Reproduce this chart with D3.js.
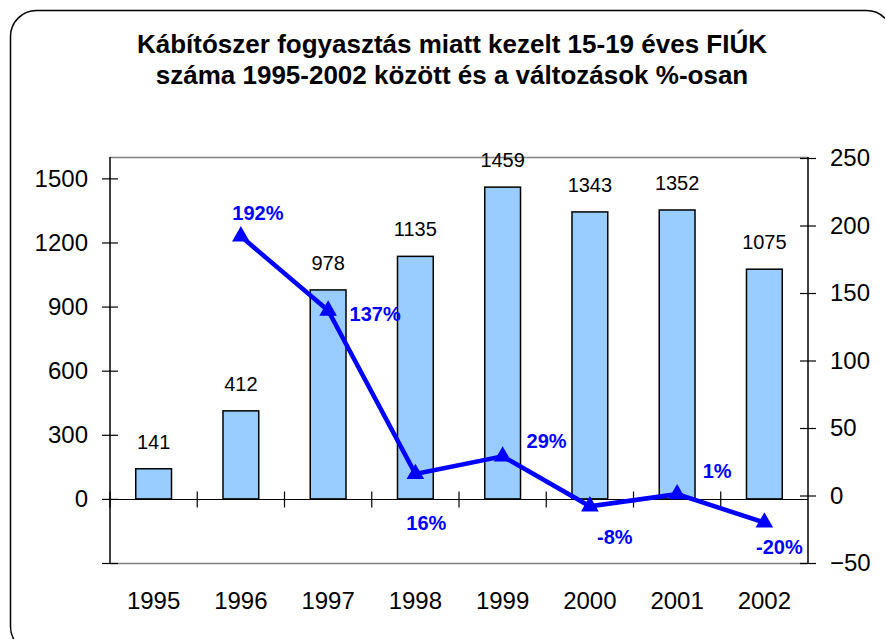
<!DOCTYPE html>
<html>
<head>
<meta charset="utf-8">
<script src="https://cdn.jsdelivr.net/npm/d3@7"></script>
<style>
body { margin: 0; background: #fff; }
text { font-family: "Liberation Sans", Arial, sans-serif; }
</style>
</head>
<body>
<div id="chart"></div>
<script>
var W = 885, H = 639;

// data
var years = ["1995", "1996", "1997", "1998", "1999", "2000", "2001", "2002"];
var counts = [141, 412, 978, 1135, 1459, 1343, 1352, 1075];
var changes = [null, 192, 137, 16, 29, -8, 1, -20];
var leftTicks = [-300, 0, 300, 600, 900, 1200, 1500];
var rightTicks = [-50, 0, 50, 100, 150, 200, 250];
var titleLines = ["Kábítószer fogyasztás miatt kezelt 15-19 éves FIÚK",
                  "száma 1995-2002 között és a változások %-osan"];

// where each % label sits relative to its marker (dx, dy)
var pctPos = [null, [17, -24], [47, 3], [11, 49], [44, -16], [25, 30], [40, -23], [15, 24]];

var svg = d3.select("#chart")
    .append("svg")
    .attr("width", W)
    .attr("height", H)

// rounded frame
svg.append("rect")
    .attr("x", 10.5).attr("y", 10.5)
    .attr("width", 882).attr("height", 642)
    .attr("rx", 26).attr("ry", 26)
    .style("fill", "none")
    .style("stroke", "#000")
    .style("stroke-width", 1.5)

svg.selectAll(".title")
    .data(titleLines)
    .enter()
    .append("text")
    .attr("x", 452)
    .attr("y", function(d, i) { return 53 + i * 31; })
    .attr("text-anchor", "middle")
    .style("font-size", "26px")
    .style("font-weight", "bold")
    .text(function(d) { return d; })

var pLeft = 110, pRight = 808, pTop = 157, pBottom = 563;

var x = d3.scaleBand().domain(years).range([pLeft, pRight]);
var yL = d3.scaleLinear().domain([-300, 1600]).range([pBottom, pTop]);
var yR = d3.scaleLinear().domain([-50, 250]).range([pBottom, 158]);

// plot area top/bottom border
svg.append("line").attr("x1", pLeft).attr("x2", pRight).attr("y1", pTop + 0.5).attr("y2", pTop + 0.5)
    .style("stroke", "#808080").style("stroke-width", 1.5)
svg.append("line").attr("x1", pLeft).attr("x2", pRight).attr("y1", pBottom + 0.5).attr("y2", pBottom + 0.5)
    .style("stroke", "#808080").style("stroke-width", 1.5)

// bars
var barW = x.bandwidth() * 0.41;
svg.selectAll(".bar")
    .data(counts)
    .enter()
    .append("rect")
    .attr("x", function(d, i) { return x(years[i]) + x.bandwidth() / 2 - barW / 2; })
    .attr("y", function(d) { return yL(d); })
    .attr("width", barW)
    .attr("height", function(d) { return yL(0) - yL(d); })
    .style("fill", "#99ccff")
    .style("stroke", "#000")
    .style("stroke-width", 1.5)

svg.selectAll(".barlab")
    .data(counts)
    .enter()
    .append("text")
    .attr("x", function(d, i) { return x(years[i]) + x.bandwidth() / 2; })
    .attr("y", function(d) { return yL(d) - 20; })
    .attr("text-anchor", "middle")
    .style("font-size", "20px")
    .text(function(d) { return d; })

// left axis
var gL = svg.append("g")
    .attr("transform", "translate(" + pLeft + ",0)")
    .call(d3.axisLeft(yL).tickValues(leftTicks).tickSize(8).tickPadding(14)
        .tickFormat(function(d) { return d < 0 ? "" : d; }))
gL.select(".domain").remove();
gL.selectAll(".tick line").attr("x1", 8).style("stroke-width", 1.2);
gL.selectAll("text").style("font-size", "24px").attr("font-family", null);
gL.append("line").attr("y1", pTop).attr("y2", pBottom).style("stroke", "#000").style("stroke-width", 1.5);

// right axis
var gR = svg.append("g")
    .attr("transform", "translate(" + pRight + ",0)")
    .call(d3.axisRight(yR).tickValues(rightTicks).tickSize(8).tickPadding(14))
gR.select(".domain").remove();
gR.selectAll(".tick line").attr("x1", -8).style("stroke-width", 1.2);
gR.selectAll("text").style("font-size", "24px").attr("font-family", null);
gR.append("line").attr("y1", pTop).attr("y2", pBottom).style("stroke", "#000").style("stroke-width", 1.5);

// category axis on the zero line
var y0 = Math.round(yL(0)) + 0.5;
svg.append("line").attr("x1", pLeft).attr("x2", pRight).attr("y1", y0).attr("y2", y0)
    .style("stroke", "#000").style("stroke-width", 1.2)
svg.selectAll(".xtick")
    .data(years)
    .enter()
    .append("line")
    .attr("x1", function(d) { return x(d); })
    .attr("x2", function(d) { return x(d); })
    .attr("y1", y0 - 8).attr("y2", y0 + 8)
    .style("stroke", "#000").style("stroke-width", 1.2)
svg.selectAll(".xlab")
    .data(years)
    .enter()
    .append("text")
    .attr("x", function(d) { return x(d) + x.bandwidth() / 2; })
    .attr("y", 609)
    .attr("text-anchor", "middle")
    .style("font-size", "24px")
    .text(function(d) { return d; })

// change line
var pts = [];
changes.forEach(function(d, i) {
    if (d !== null) pts.push({ i: i, v: d, cx: x(years[i]) + x.bandwidth() / 2, cy: yR(d) });
});

svg.append("path")
    .datum(pts)
    .attr("d", d3.line().x(function(d) { return d.cx; }).y(function(d) { return d.cy; }))
    .style("fill", "none")
    .style("stroke", "#0000ff")
    .style("stroke-width", 4.5)

svg.selectAll(".mark")
    .data(pts)
    .enter()
    .append("path")
    .attr("d", d3.symbol().type(d3.symbolTriangle).size(135))
    .attr("transform", function(d) { return "translate(" + d.cx + "," + d.cy + ")"; })
    .style("fill", "#0000ff")

svg.selectAll(".pct")
    .data(pts)
    .enter()
    .append("text")
    .attr("x", function(d) { return d.cx + pctPos[d.i][0]; })
    .attr("y", function(d) { return d.cy + pctPos[d.i][1]; })
    .attr("dy", "0.36em")
    .attr("text-anchor", "middle")
    .style("font-size", "20px")
    .style("font-weight", "bold")
    .style("fill", "#0000ff")
    .text(function(d) { return d.v + "%"; })
</script>
</body>
</html>
